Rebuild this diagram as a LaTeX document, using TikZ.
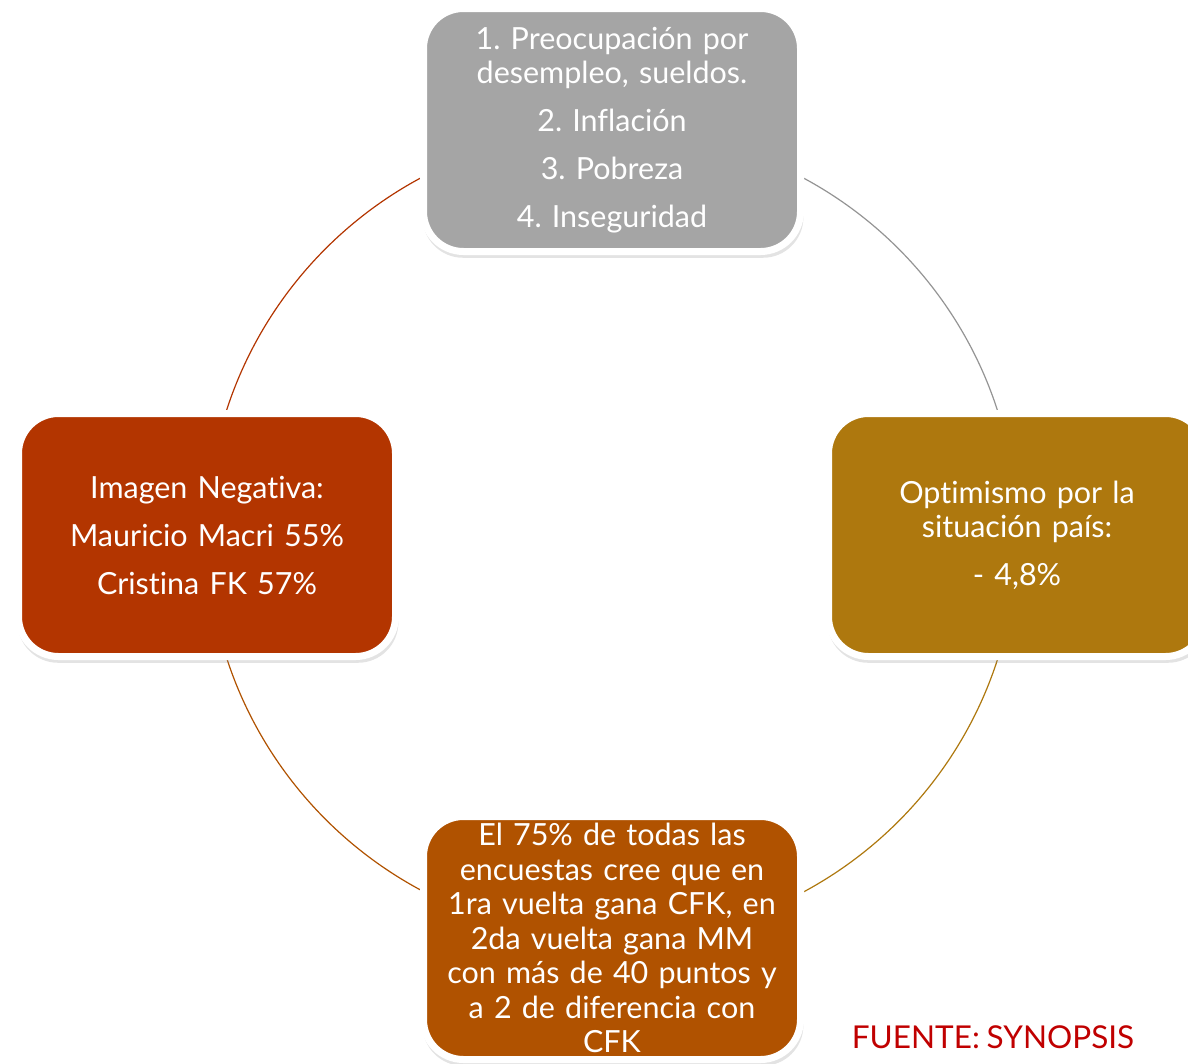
\documentclass[tikz,border=0pt]{standalone}
\usepackage{fontspec}
\setmainfont{Lato}[Ligatures=NoCommon, WordSpace=0.85]
\usetikzlibrary{shadows,backgrounds}
\frenchspacing

\definecolor{boxgray}{HTML}{A5A5A5}
\definecolor{boxgold}{HTML}{AE780E}
\definecolor{boxbrown}{HTML}{B05200}
\definecolor{boxred}{HTML}{B33500}
\definecolor{srcred}{HTML}{C00000}

\tikzset{
  cyclebox/.style={rectangle, rounded corners=40pt, draw=white, line width=7pt,
    minimum width=377pt, minimum height=243pt, inner xsep=8pt, inner ysep=0pt,
    text width=360pt, align=center, text=white,
    font=\fontsize{30.5}{34}\selectfont,
    drop shadow={opacity=0.22, shadow xshift=1pt, shadow yshift=-5pt, shadow scale=1.01}},
  cyclearc/.style={line width=1.2pt}
}

\begin{document}
\begin{tikzpicture}[x=1pt, y=-1pt]
    \useasboundingbox (0,0) rectangle (1188,1063);

    % the four boxes
    \node[cyclebox, fill=boxgray] (prob) at (612,130)
      {1. Preocupación por\\desempleo, sueldos.\\[14pt]2. Inflación\\[14pt]3. Pobreza\\[14pt]4. Inseguridad};
    \node[cyclebox, fill=boxgold] (opt) at (1017,535)
      {Optimismo por la\\situación país:\\[14pt]- 4,8\%};
    \node[cyclebox, fill=boxbrown, font=\fontsize{30.5}{34.5}\selectfont] (enc) at (612,938)
      {El 75\% de todas las\\encuestas cree que en\\1ra vuelta gana CFK, en\\2da vuelta gana MM\\con más de 40 puntos y\\a 2 de diferencia con\\CFK};
    \node[cyclebox, fill=boxred] (img) at (207,535)
      {Imagen Negativa:\\[14pt]Mauricio Macri 55\%\\[14pt]Cristina FK 57\%};

    % arcs of the cycle
    \begin{pgfonlayer}{background}
      \draw[cyclearc, boxgray!90!black] (prob.center) arc[start angle=-90, end angle=0, radius=405];
      \draw[cyclearc, boxgold] (opt.center) arc[start angle=0, end angle=90, radius=405];
      \draw[cyclearc, boxbrown] (enc.center) arc[start angle=90, end angle=180, radius=405];
      \draw[cyclearc, boxred] (img.center) arc[start angle=180, end angle=270, radius=405];
    \end{pgfonlayer}

    % source
    \node[text=srcred, font=\fontsize{31.5}{36}\selectfont] (src) at (993,1037) {FUENTE: SYNOPSIS};
\end{tikzpicture}
\end{document}
